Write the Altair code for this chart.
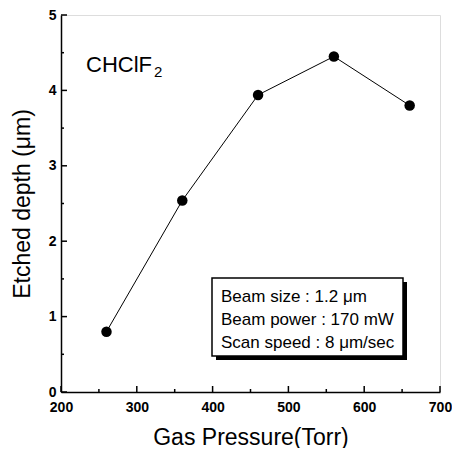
import altair as alt
import pandas as pd

pressure = [260, 360, 460, 560, 660]
depth = [0.80, 2.54, 3.94, 4.45, 3.80]
x_major = [200, 300, 400, 500, 600, 700]
x_minor = [250, 350, 450, 550, 650]
y_major = [0, 1, 2, 3, 4, 5]
y_minor = [0.5, 1.5, 2.5, 3.5, 4.5]
info_lines = ["Beam size : 1.2 μm", "Beam power : 170 mW", "Scan speed : 8 μm/sec"]

W, H = 379, 377
FONT = "Liberation Sans"

df = pd.DataFrame({"p": pressure, "d": depth})
xs = alt.Scale(domain=[200, 700], nice=False)
ys = alt.Scale(domain=[0, 5], nice=False)

base = alt.Chart(df)
line = base.mark_line(color="black", strokeWidth=1).encode(
    x=alt.X("p:Q", scale=xs, axis=alt.Axis(title="Gas Pressure(Torr)", values=x_major, ticks=False, format="d",
                                           labelFontSize=14, labelFont=FONT, labelFontWeight="bold",
                                           labelColor="black", titleFont=FONT, titleFontSize=23,
                                           titleFontWeight="normal", titleColor="black", titlePadding=12,
                                           domainColor="black", domainWidth=1.5, grid=False, labelPadding=8,
                                           labelFlush=False)),
    y=alt.Y("d:Q", scale=ys, axis=alt.Axis(title="Etched depth (μm)", values=y_major, ticks=False, format="d",
                                           labelFontSize=14, labelFont=FONT, labelFontWeight="bold",
                                           labelColor="black", titleFont=FONT, titleFontSize=23,
                                           titleFontWeight="normal", titleColor="black", titlePadding=14,
                                           domainColor="black", domainWidth=1.5, grid=False, labelPadding=5,
                                           labelFlush=False)),
)
pts = base.mark_circle(color="black", opacity=1, size=110).encode(x=alt.X("p:Q", scale=xs), y=alt.Y("d:Q", scale=ys))

xt = pd.DataFrame({"v": x_major})
xtm = pd.DataFrame({"v": x_minor})
yt = pd.DataFrame({"v": y_major})
ytm = pd.DataFrame({"v": y_minor})
xtick = alt.Chart(xt).mark_rule(color="black", strokeWidth=1.5).encode(
    x=alt.X("v:Q", scale=xs), y=alt.value(H), y2=alt.value(H - 6))
xtick_m = alt.Chart(xtm).mark_rule(color="black", strokeWidth=1.5).encode(
    x=alt.X("v:Q", scale=xs), y=alt.value(H), y2=alt.value(H - 3))
ytick = alt.Chart(yt).mark_rule(color="black", strokeWidth=1.5).encode(
    y=alt.Y("v:Q", scale=ys), x=alt.value(0), x2=alt.value(6))
ytick_m = alt.Chart(ytm).mark_rule(color="black", strokeWidth=1.5).encode(
    y=alt.Y("v:Q", scale=ys), x=alt.value(0), x2=alt.value(3))

label = alt.Chart(pd.DataFrame({"t": ["CHClF"]})).mark_text(
    font=FONT, fontSize=22, align="left", baseline="alphabetic", color="black").encode(
    text="t:N", x=alt.value(25), y=alt.value(57))
sub = alt.Chart(pd.DataFrame({"t": ["2"]})).mark_text(
    font=FONT, fontSize=15, align="left", baseline="alphabetic", color="black").encode(
    text="t:N", x=alt.value(93), y=alt.value(62))

box_l, box_t, box_r, box_b = 151, 263, 342, 341
shadow = alt.Chart(pd.DataFrame({"a": [1]})).mark_rect(color="black").encode(
    x=alt.value(box_l + 4), x2=alt.value(box_r + 4), y=alt.value(box_t + 4), y2=alt.value(box_b + 4))
box = alt.Chart(pd.DataFrame({"a": [1]})).mark_rect(fill="white", stroke="black", strokeWidth=1.5).encode(
    x=alt.value(box_l), x2=alt.value(box_r), y=alt.value(box_t), y2=alt.value(box_b))
info = pd.DataFrame({"t": info_lines, "i": [0, 1, 2]})
info_txt = alt.Chart(info).transform_calculate(py=f"{box_t + 19} + datum.i * 23").mark_text(
    font=FONT, fontSize=17, align="left", baseline="middle", color="black").encode(
    text="t:N", x=alt.value(box_l + 9), y=alt.Y("py:Q", scale=None, axis=None))

chart = alt.layer(line, pts, xtick, xtick_m, ytick, ytick_m, label, sub, shadow, box, info_txt).properties(
    width=W, height=H, autosize=alt.AutoSizeParams(type="none"),
    padding={"left": 53, "top": 7, "right": 12, "bottom": 56},
).configure_view(stroke="black", strokeWidth=1.5).configure(background="white")

chart.save("out.html", embed_options={"renderer": "svg", "actions": False})
